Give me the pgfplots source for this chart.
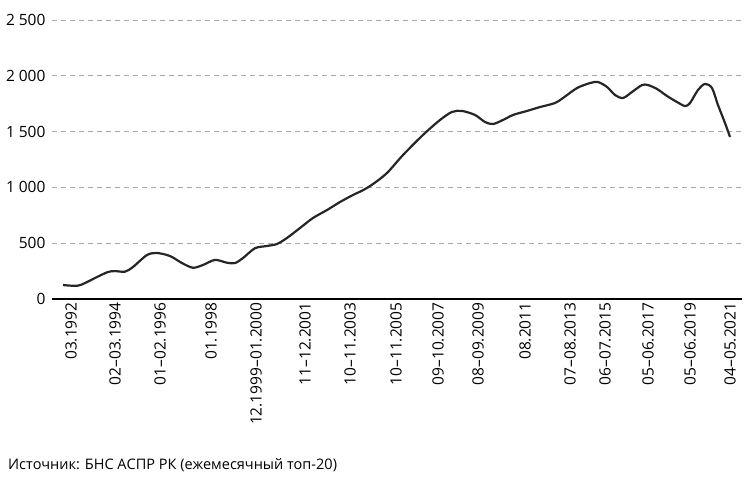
\documentclass[border=0pt]{standalone}
\usepackage{fontspec}
\setmainfont{Open Sans}
\usepackage{pgfplots}
\pgfplotsset{compat=1.18}
\definecolor{gridgray}{HTML}{A8A8A8}
\definecolor{linegray}{HTML}{262626}
\begin{document}
\begin{tikzpicture}[x=1pt,y=1pt]
\useasboundingbox (0,0) rectangle (745,481);
\begin{axis}[
    at={(52pt,182pt)}, anchor=south west,
    scale only axis,
    width=690pt, height=279pt,
    xmin=52, xmax=742,
    ymin=0, ymax=2500,
    axis x line=bottom, axis y line=left,
    x axis line style={-, black, line width=1.3pt},
    y axis line style={draw=none},
    ytick={0,500,...,2500},
    ymajorgrids,
    grid style={gridgray, line width=0.8pt, dash pattern=on 5pt off 4pt},
    major tick length=0pt,
    scaled y ticks=false,
    yticklabel style={font=\fontsize{15.5}{18}\selectfont, xshift=-3pt,
        /pgf/number format/assume math mode=true,
        /pgf/number format/1000 sep={\hspace{0.25em}}},
    xtick={68,112,157,208,253,302,347,393,435,475,522,567,602,645,687,727},
    xticklabels={03.1992,02--03.1994,01--02.1996,01.1998,12.1999--01.2000,11--12.2001,10--11.2003,10--11.2005,09--10.2007,08--09.2009,08.2011,07--08.2013,06--07.2015,05--06.2017,05--06.2019,04--05.2021},
    xticklabel style={font=\fontsize{15.5}{18}\selectfont, rotate=90, anchor=east, yshift=-3pt},
]
\addplot[linegray, line width=2.2pt, smooth, tension=0.5] coordinates {
(63,125) (77,118) (85,143) (97,197) (108,242) (115,250) (125,245) (133,287)
(147,394) (157,412) (170,385) (182,322) (193,280) (203,305) (215,350) (227,325)
(235,322) (243,367) (255,455) (267,475) (277,493) (287,547) (300,636) (313,726)
(327,797) (340,869) (353,932) (363,975) (373,1030) (387,1129) (403,1290) (423,1470)
(440,1604) (452,1676) (462,1685) (475,1649) (485,1586) (493,1568) (503,1604) (513,1649)
(527,1685) (540,1720) (555,1756) (563,1801) (577,1890) (590,1935) (598,1944) (607,1900)
(615,1828) (623,1801) (632,1855) (642,1917) (648,1917) (657,1882) (667,1819) (677,1765)
(685,1729) (690,1756) (698,1873) (705,1927) (712,1890) (718,1738) (725,1577) (730,1452)
};
\end{axis}
\node[anchor=base west, font=\fontsize{14.5}{16}\selectfont, inner sep=0pt] at (8,11) {Источник: БНС АСПР РК (ежемесячный топ-20)};
\end{tikzpicture}
\end{document}
